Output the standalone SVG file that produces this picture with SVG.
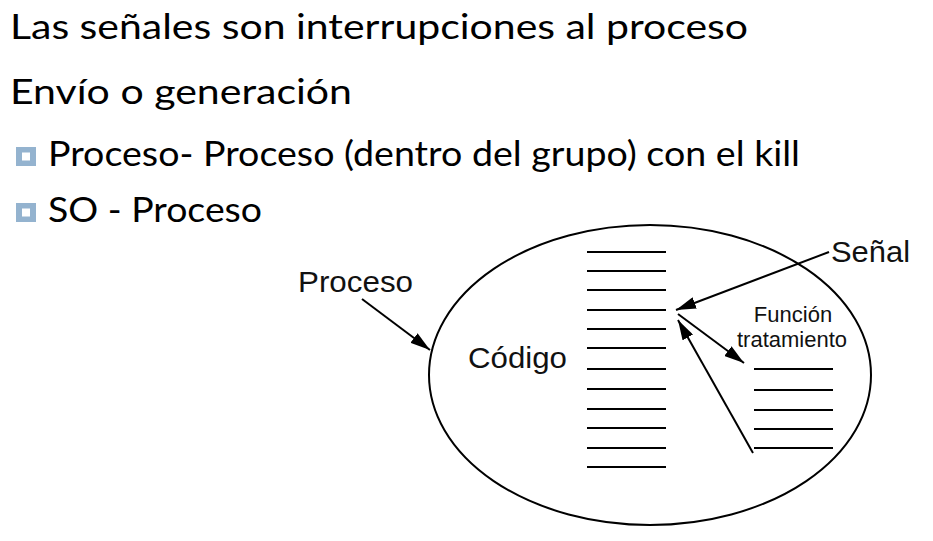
<svg xmlns="http://www.w3.org/2000/svg" width="933" height="541" viewBox="0 0 933 541">
<style>
.h{font-family:Lato,"Open Sans","DejaVu Sans",sans-serif;font-size:35px;fill:#000}
.d{font-family:"Liberation Sans",Arial,sans-serif;fill:#111}
.ln{stroke:#000;stroke-width:2;fill:none}
.ar{stroke:#000;stroke-width:2;fill:none;marker-end:url(#ah)}
</style>
<defs>
<marker id="ah" viewBox="0 0 20 12" refX="20" refY="6" markerWidth="20" markerHeight="12" markerUnits="userSpaceOnUse" orient="auto">
<path d="M0,0 L20,6 L0,12 Z" fill="#000"/>
</marker>
</defs>
<rect width="933" height="541" fill="#fff"/>
<g id="title">
<text class="h" x="10" y="39" textLength="738" lengthAdjust="spacingAndGlyphs">Las señales son interrupciones al proceso</text>
<text class="h" x="10" y="104" textLength="342" lengthAdjust="spacingAndGlyphs">Envío o generación</text>
</g>
<g id="bullet1">
<rect x="16" y="147" width="20" height="19" fill="#94b3cf"/>
<rect x="22" y="152.5" width="8" height="8" fill="#fff"/>
<text class="h" x="48" y="166" textLength="752" lengthAdjust="spacingAndGlyphs">Proceso- Proceso (dentro del grupo) con el kill</text>
</g>
<g id="bullet2">
<rect x="16" y="203" width="20" height="19" fill="#94b3cf"/>
<rect x="22" y="208.5" width="8" height="8" fill="#fff"/>
<text class="h" x="48" y="222" textLength="214" lengthAdjust="spacingAndGlyphs">SO - Proceso</text>
</g>
<g id="proceso">
<ellipse cx="650" cy="375" rx="221" ry="150" class="ln" stroke-width="1.6"/>
<text class="d" x="298" y="292" font-size="30" textLength="115" lengthAdjust="spacingAndGlyphs">Proceso</text>
</g>
<g id="codigo">
<text class="d" x="468" y="368" font-size="30" textLength="99" lengthAdjust="spacingAndGlyphs">Código</text>
<path class="ln" d="M587,252H666M587,271H666M587,290H666M587,310H666M587,329H666M587,348H666M587,369H666M587,389H666M587,409H666M587,428H666M587,448H666M587,467H666"/>
</g>
<g id="funcion">
<text class="d" font-size="22" text-anchor="middle"><tspan x="793" y="322">Función</tspan><tspan x="792" y="347">tratamiento</tspan></text>
<path class="ln" d="M754,369H833M754,390H833M754,410H833M754,429H833M754,448H833"/>
</g>
<g id="senal">
<text class="d" x="831" y="262" font-size="30" textLength="79" lengthAdjust="spacingAndGlyphs">Señal</text>
</g>
<g id="connectors">
<line class="ar" x1="362" y1="299" x2="430" y2="350"/>
<line class="ar" x1="829" y1="252" x2="676" y2="310"/>
<line class="ar" x1="678" y1="314" x2="744" y2="363"/>
<line class="ar" x1="753" y1="453" x2="678" y2="320"/>
</g>
</svg>
